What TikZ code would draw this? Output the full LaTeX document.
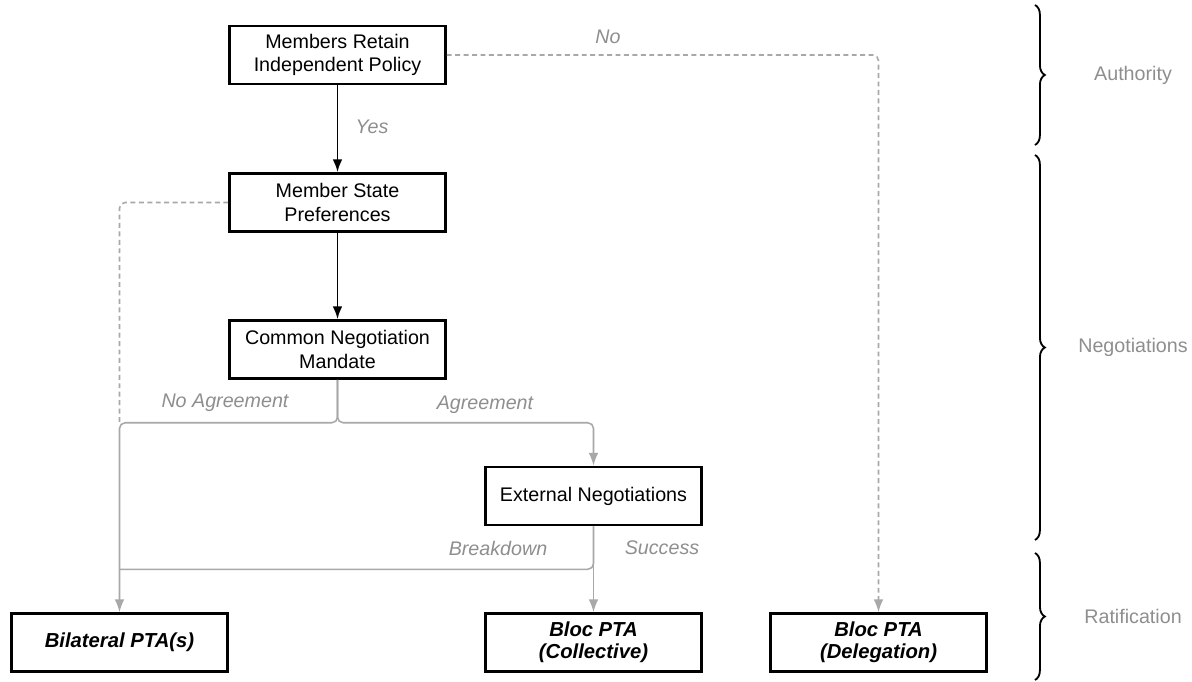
\documentclass[tikz,border=0pt]{standalone}
\usepackage{fontspec}
\setmainfont{Liberation Sans}
\usetikzlibrary{calc,decorations.pathreplacing}
\usetikzlibrary{arrows.meta}
\definecolor{linegray}{HTML}{A8A8A8}
\definecolor{textgray}{HTML}{8E8E8E}

\begin{document}
\begin{tikzpicture}[x=0.025cm,y=-0.025cm,
  stage/.style={draw,line width=1.8pt,minimum width=5.4cm,minimum height=1.45cm,align=center,font=\fontsize{14}{16.5}\selectfont},
  outcome/.style={stage,font=\fontsize{14.4}{15.5}\selectfont\bfseries\itshape},
  flow/.style={-{Latex[length=3.2mm,width=2.4mm]},line width=1.4pt},
  alt/.style={flow,linegray,line width=1.1pt,rounded corners=4pt},
  altline/.style={linegray,line width=1.1pt,rounded corners=4pt},
  gapdash/.style={dash pattern=on 3.5pt off 2.5pt},
  edgetext/.style={textgray,font=\fontsize{14}{16.5}\selectfont\itshape},
  phase/.style={decorate,decoration={brace,amplitude=7pt},line width=1.3pt},
  phasetext/.style={textgray,font=\fontsize{14}{16.5}\selectfont}]
\useasboundingbox (0,0) rectangle (1192,682);

% boxes
\node[stage] (retain) at (337.5,55) {Members Retain\\Independent Policy};
\node[stage] (prefs) at (337.5,202.5) {Member State\\Preferences};
\node[stage] (mandate) at (337.5,349.5) {Common Negotiation\\Mandate};
\node[stage] (external) at (593.5,496) {External Negotiations};
\node[outcome] (bilateral) at (119.5,642.5) {Bilateral PTA(s)};
\node[outcome] (collective) at (593.5,642.5) {Bloc PTA\\(Collective)};
\node[outcome] (delegation) at (878.5,642.5) {Bloc PTA\\(Delegation)};

\path (mandate.south) ++(0,43) coordinate (split);
\path (external.south) ++(0,43) coordinate (merge);

% authority
\draw[flow] (retain) -- (prefs);
\node[edgetext] at (372,127) {Yes};
\draw[alt,gapdash] (retain.east) -| (delegation.north);
\node[edgetext] at (608,37) {No};

% negotiations
\draw[flow] (prefs) -- (mandate);
\draw[altline,gapdash] (prefs.west) -| (split -| bilateral.north);
\draw[alt] (mandate.south) |- (split -| bilateral.north) -- (bilateral.north);
\draw[alt] (mandate.south) |- (split -| external.north) -- (external.north);
\node[edgetext] at (225,403) {No Agreement};
\node[edgetext] at (485,405) {Agreement};

% ratification
\draw[alt] (external) -- (collective);
\draw[altline] (external.south) |- (merge -| bilateral.north);
\node[edgetext] at (662,548) {Success};
\node[edgetext] at (498,548) {Breakdown};

% phases
\path (1035,5) coordinate (authtop);
\path (1035,145) coordinate (authbot);
\path (1035,155) coordinate (negtop);
\path (1035,540) coordinate (negbot);
\path (1035,553) coordinate (rattop);
\path (1035,680) coordinate (ratbot);
\draw[phase] (authtop) -- (authbot) node[phasetext,midway,xshift=2.45cm] {Authority};
\draw[phase] (negtop) -- (negbot) node[phasetext,midway,xshift=2.45cm] {Negotiations};
\draw[phase] (rattop) -- (ratbot) node[phasetext,midway,xshift=2.45cm] {Ratification};
\end{tikzpicture}
\end{document}
